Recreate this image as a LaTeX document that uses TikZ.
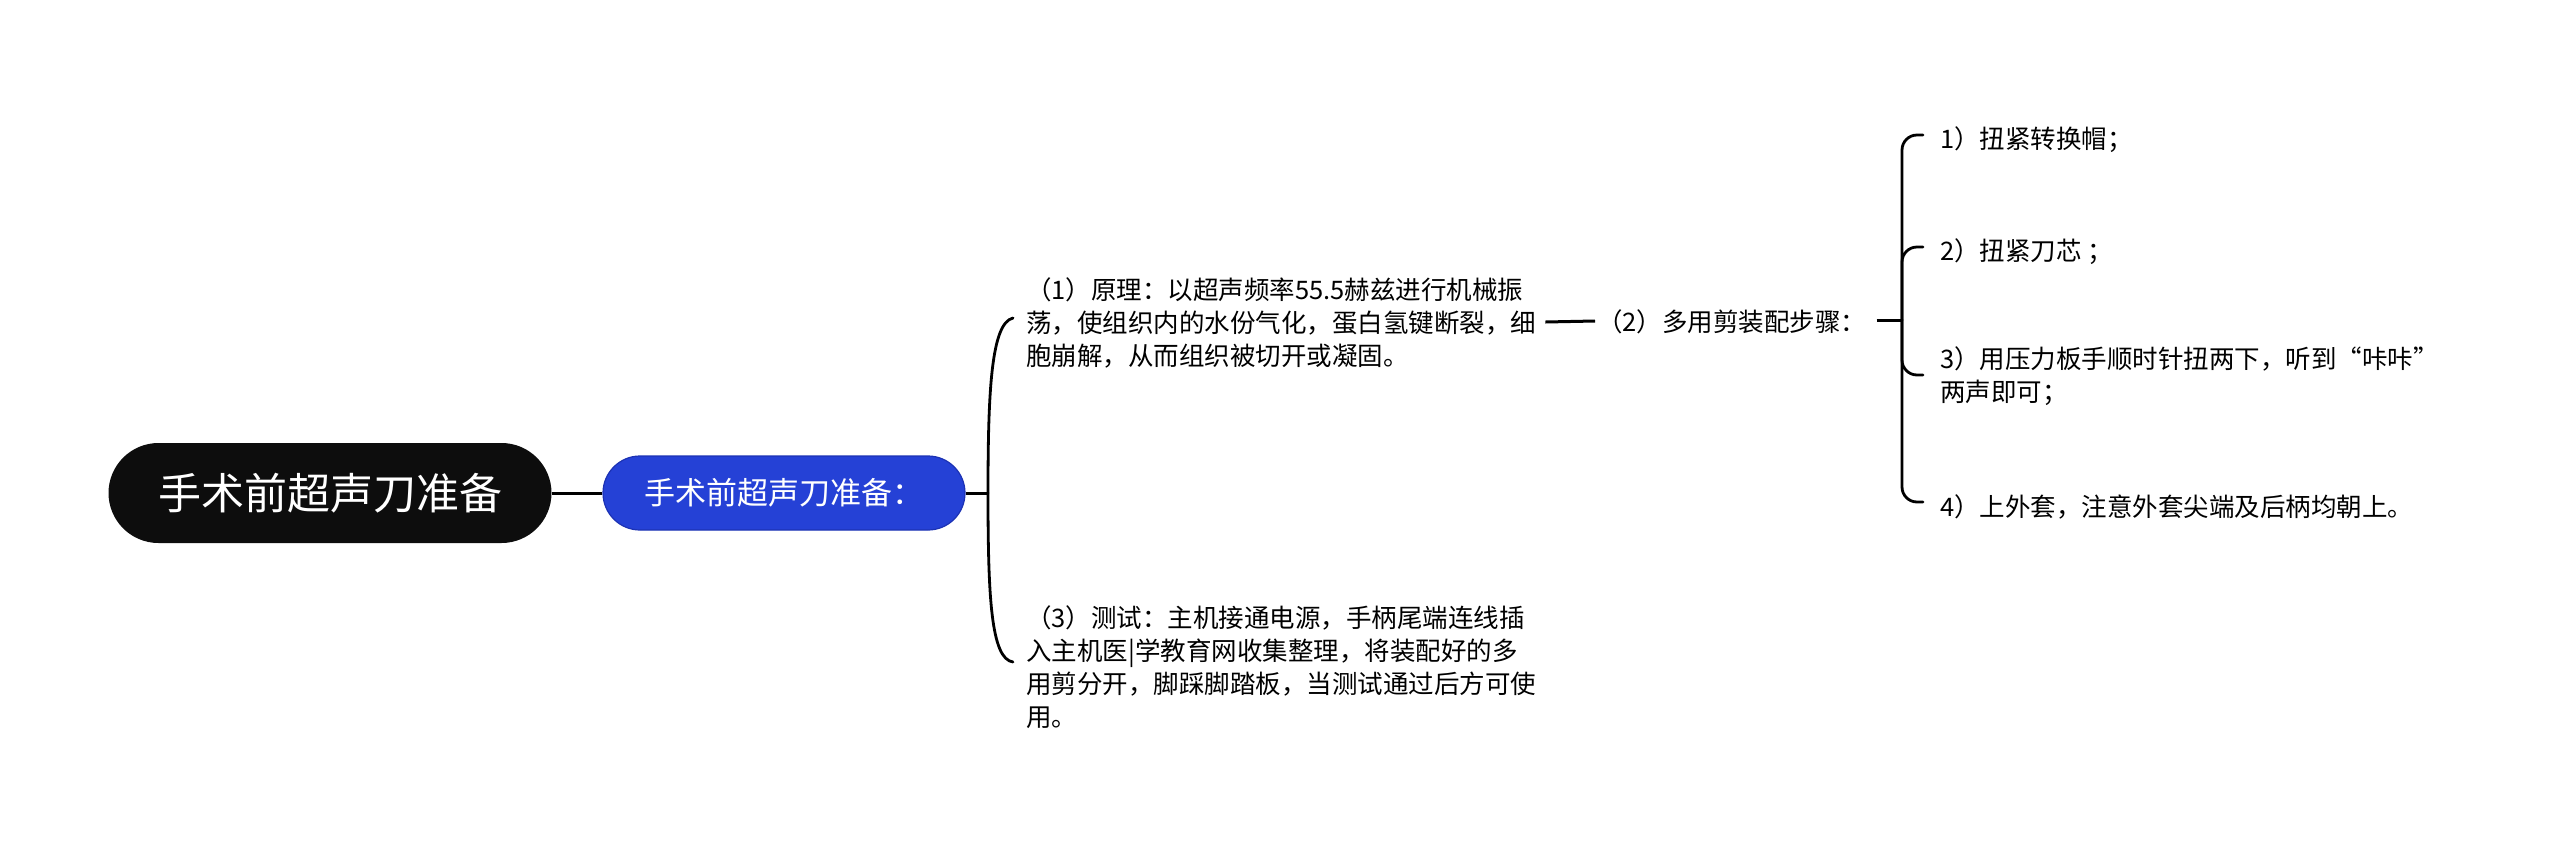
\documentclass[tikz,border=0pt]{standalone}
\usepackage{fontspec}
\setmainfont{Noto Sans CJK SC}
\usetikzlibrary{calc}
\definecolor{rootfill}{RGB}{13,13,13}
\definecolor{subfill}{RGB}{37,65,214}
\definecolor{subedge}{RGB}{28,50,180}
\begin{document}
\begin{tikzpicture}[x=1pt,y=-1pt,
  rootbox/.style={fill=rootfill, text=white, rounded corners=50pt, minimum width=443pt, minimum height=100pt, inner sep=0pt, font=\fontsize{43}{50}\selectfont},
  subbox/.style={fill=subfill, draw=subedge, line width=1.2pt, text=white, rounded corners=37pt, minimum width=362pt, minimum height=74pt, inner sep=0pt, font=\fontsize{31}{36}\selectfont},
  txt/.style={anchor=west, align=left, inner xsep=13pt, inner ysep=0pt, font=\fontsize{25.5}{33}\selectfont},
  link/.style={line width=3pt, draw=black},
  brace/.style={line width=2.8pt, draw=black, line cap=round}
]
\useasboundingbox (0,0) rectangle (2560,847);

\node[rootbox] (root) at (330,493) {手术前超声刀准备};
\node[subbox] (sub) at (784,493) {手术前超声刀准备：};

\node[txt] (n1) at (1013,323) {（1）原理：以超声频率55.5赫兹进行机械振\\荡，使组织内的水份气化，蛋白氢键断裂，细\\胞崩解，从而组织被切开或凝固。};
\node[txt] (n3) at (1013,667) {（3）测试：主机接通电源，手柄尾端连线插\\入主机医|学教育网收集整理，将装配好的多\\用剪分开，脚踩脚踏板，当测试通过后方可使\\用。};
\node[txt, inner xsep=0pt] (n2) at (1597,322) {（2）多用剪装配步骤：};

\node[txt, inner xsep=17pt] (c1) at (1923,140) {1）扭紧转换帽；};
\node[txt, inner xsep=17pt] (c2) at (1923,252) {2）扭紧刀芯 ；};
\node[txt, inner xsep=17pt] (c3) at (1923,376) {3）用压力板手顺时针扭两下，听到“咔咔”\\两声即可；};
\node[txt, inner xsep=17pt] (c4) at (1923,507) {4）上外套，注意外套尖端及后柄均朝上。};

\coordinate (j1) at (988,493);
\coordinate (j2) at (1902,320);

\draw[link] (root.east) -- (sub.west);
\draw[link] (sub.east) -- (j1);
\draw[brace] (j1) .. controls ($(j1|-n1.west)+(0,70)$) and ($(n1.west)+(-22,0)$) .. ($(n1.west)+(0,-5)$);
\draw[brace] (j1) .. controls ($(j1|-n3.west)+(0,-70)$) and ($(n3.west)+(-22,-8)$) .. ($(n3.west)+(0,-5)$);

\draw[link] ($(n1.east)+(-4,-1)$) -- ($(n2.west)+(-2,-1)$);
\draw[link] ($(n2.east)+(10,-2)$) -- (j2);
\draw[brace, rounded corners=15pt] (j2) |- ($(c1.west)+(0,-5)$);
\draw[brace, rounded corners=15pt] (j2) |- ($(c2.west)+(0,-5)$);
\draw[brace, rounded corners=15pt] (j2) |- ($(c3.west)+(0,-1)$);
\draw[brace, rounded corners=15pt] (j2) |- ($(c4.west)+(0,-5)$);
\end{tikzpicture}
\end{document}
